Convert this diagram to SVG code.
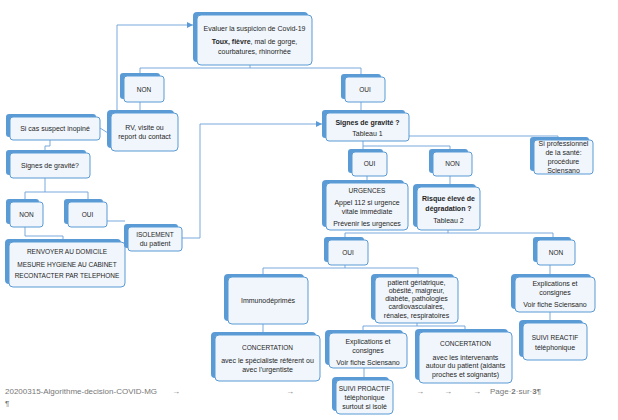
<svg xmlns="http://www.w3.org/2000/svg" width="618" height="420" viewBox="0 0 618 420">
<defs>
<style>
.bk{fill:#5b9bd5}
.fr{fill:#f1f6fc;stroke:#5b9bd5;stroke-width:1}
.t{font-family:"Liberation Sans",Arial,sans-serif;font-size:7px;fill:#1f1f1f;text-anchor:middle}
.u{font-size:6.5px}
.b{font-weight:bold}
.c{fill:none;stroke:#6b9fd8;stroke-width:0.9}
.f{font-family:"Liberation Sans",Arial,sans-serif;font-size:8px;fill:#777777}
</style>
<marker id="arr" viewBox="0 0 6 6" refX="6" refY="3" markerWidth="6" markerHeight="6" orient="auto" markerUnits="userSpaceOnUse">
<path d="M0,0 L6,3 L0,6 z" fill="#5b9bd5"/>
</marker>
</defs>
<rect width="618" height="420" fill="#ffffff"/>
<g id="connectors">
<polyline class="c" points="250,65 250,68"/>
<polyline class="c" points="140,76 140,68 361,68 361,77"/>
<polyline class="c" points="140,102 140,113"/>
<polyline class="c" points="117,111 117,25 193,25" marker-end="url(#arr)"/>
<polyline class="c" points="100,128 108,133"/>
<polyline class="c" points="50,140 50,146 45,146 45,153"/>
<polyline class="c" points="45,178 45,192"/>
<polyline class="c" points="25,202 25,192 88,192 88,202"/>
<polyline class="c" points="25,227 25,236 63,236 63,242"/>
<polyline class="c" points="107,221 125,221"/>
<polyline class="c" points="182,238 200,238 200,124 322,124" marker-end="url(#arr)"/>
<polyline class="c" points="361,102 361,113"/>
<polyline class="c" points="409,136 558,136 558,140"/>
<polyline class="c" points="363,141 363,146"/>
<polyline class="c" points="363,152 363,146 450,146 450,152"/>
<polyline class="c" points="367,176 367,183"/>
<polyline class="c" points="450,176 450,187"/>
<polyline class="c" points="448,230 448,233"/>
<polyline class="c" points="345,240 345,233 553,233 553,240"/>
<polyline class="c" points="345,265 345,268"/>
<polyline class="c" points="263,277 263,268 418,268 418,277"/>
<polyline class="c" points="550,265 550,277"/>
<polyline class="c" points="550,312 550,323"/>
<polyline class="c" points="263,324 263,335"/>
<polyline class="c" points="417,323 417,326"/>
<polyline class="c" points="363,333 363,326 465,326 465,332"/>
<polyline class="c" points="364,368 364,380"/>
</g>
<g id="n-evaluer"><rect class="bk" x="193" y="12" width="115" height="50" rx="4"/><rect class="fr" x="197" y="15" width="115" height="50" rx="4"/>
<text class="t" x="254.5" y="31">Evaluer la suspicion de Covid-19</text>
<text class="t" x="254.5" y="44"><tspan class="b">Toux, fièvre</tspan>, mal de gorge,</text>
<text class="t" x="254.5" y="54">courbatures, rhinorrhée</text></g>
<g id="n-non1"><rect class="bk" x="120" y="73" width="40" height="26" rx="3"/><rect class="fr" x="124" y="76" width="40" height="26" rx="3"/>
<text class="t u" x="144" y="91.5">NON</text></g>
<g id="n-rv"><rect class="bk" x="107" y="110" width="67" height="38" rx="4"/><rect class="fr" x="111" y="113" width="67" height="38" rx="4"/>
<text class="t" x="144.5" y="129.5">RV, visite ou</text>
<text class="t" x="144.5" y="138.5">report du contact</text></g>
<g id="n-oui1"><rect class="bk" x="341" y="74" width="40" height="25" rx="3"/><rect class="fr" x="345" y="77" width="40" height="25" rx="3"/>
<text class="t u" x="365" y="91.5">OUI</text></g>
<g id="n-sicas"><rect class="bk" x="6" y="114" width="90" height="23" rx="3"/><rect class="fr" x="10" y="117" width="90" height="23" rx="3"/>
<text class="t" x="55" y="131">Si cas suspect inopiné</text></g>
<g id="n-signes-left"><rect class="bk" x="6" y="150" width="80" height="25" rx="3"/><rect class="fr" x="10" y="153" width="80" height="25" rx="3"/>
<text class="t" x="50" y="168">Signes de gravité?</text></g>
<g id="n-non-left"><rect class="bk" x="6" y="199" width="33" height="25" rx="3"/><rect class="fr" x="10" y="202" width="33" height="25" rx="3"/>
<text class="t u" x="26.5" y="216.5">NON</text></g>
<g id="n-oui-left"><rect class="bk" x="64" y="199" width="39" height="25" rx="3"/><rect class="fr" x="68" y="202" width="39" height="25" rx="3"/>
<text class="t u" x="87.5" y="216.5">OUI</text></g>
<g id="n-renvoyer"><rect class="bk" x="5" y="239" width="116" height="45" rx="4"/><rect class="fr" x="9" y="242" width="116" height="45" rx="4"/>
<text class="t u" x="67" y="254">RENVOYER AU DOMICILE</text>
<text class="t u" x="67" y="267">MESURE HYGIENE AU CABINET</text>
<text class="t u" x="67" y="278">RECONTACTER PAR TELEPHONE</text></g>
<g id="n-isolement"><rect class="bk" x="124" y="224" width="54" height="24" rx="3"/><rect class="fr" x="128" y="227" width="54" height="24" rx="3"/>
<text class="t u" x="155" y="236.5">ISOLEMENT</text>
<text class="t" x="155" y="245.5">du patient</text></g>
<g id="n-signes1"><rect class="bk" x="322" y="110" width="83" height="28" rx="3"/><rect class="fr" x="326" y="113" width="83" height="28" rx="3"/>
<text class="t b" x="367.5" y="124.5">Signes de gravité ?</text>
<text class="t" x="367.5" y="135.5">Tableau 1</text></g>
<g id="n-sipro"><rect class="bk" x="530" y="137" width="59" height="34" rx="3"/><rect class="fr" x="534" y="140" width="59" height="34" rx="3"/>
<text class="t" x="563.5" y="146">Si professionnel</text>
<text class="t" x="563.5" y="155">de la santé:</text>
<text class="t" x="563.5" y="164">procédure</text>
<text class="t" x="563.5" y="172.5">Sciensano</text></g>
<g id="n-oui2"><rect class="bk" x="348" y="149" width="35" height="24" rx="3"/><rect class="fr" x="352" y="152" width="35" height="24" rx="3"/>
<text class="t u" x="369.5" y="166">OUI</text></g>
<g id="n-non2"><rect class="bk" x="429" y="149" width="39" height="24" rx="3"/><rect class="fr" x="433" y="152" width="39" height="24" rx="3"/>
<text class="t u" x="452.5" y="166">NON</text></g>
<g id="n-urgences"><rect class="bk" x="322" y="180" width="82" height="47" rx="4"/><rect class="fr" x="326" y="183" width="82" height="47" rx="4"/>
<text class="t u" x="367" y="192.5">URGENCES</text>
<text class="t" x="367" y="204.5">Appel 112 si urgence</text>
<text class="t" x="367" y="213.5">vitale immédiate</text>
<text class="t" x="367" y="226">Prévenir les urgences</text></g>
<g id="n-risque"><rect class="bk" x="413" y="184" width="63" height="43" rx="4"/><rect class="fr" x="417" y="187" width="63" height="43" rx="4"/>
<text class="t b" x="448.5" y="200.5">Risque élevé de</text>
<text class="t b" x="448.5" y="210.5">dégradation ?</text>
<text class="t" x="448.5" y="222.5">Tableau 2</text></g>
<g id="n-oui3"><rect class="bk" x="324" y="237" width="40" height="25" rx="3"/><rect class="fr" x="328" y="240" width="40" height="25" rx="3"/>
<text class="t u" x="348" y="254.5">OUI</text></g>
<g id="n-non3"><rect class="bk" x="533" y="237" width="38" height="25" rx="3"/><rect class="fr" x="537" y="240" width="38" height="25" rx="3"/>
<text class="t u" x="556" y="254.5">NON</text></g>
<g id="n-immuno"><rect class="bk" x="224" y="274" width="80" height="47" rx="4"/><rect class="fr" x="228" y="277" width="80" height="47" rx="4"/>
<text class="t" x="268" y="302.5">Immunodéprimés</text></g>
<g id="n-patient"><rect class="bk" x="371" y="274" width="83" height="46" rx="4"/><rect class="fr" x="375" y="277" width="83" height="46" rx="4"/>
<text class="t" x="416.5" y="284.5">patient gériatrique,</text>
<text class="t" x="416.5" y="292.5">obésité, maigreur,</text>
<text class="t" x="416.5" y="300.5">diabète, pathologies</text>
<text class="t" x="416.5" y="309">cardiovasculaires,</text>
<text class="t" x="416.5" y="317.5">rénales, respiratoires</text></g>
<g id="n-explic-right"><rect class="bk" x="511" y="274" width="80" height="35" rx="4"/><rect class="fr" x="515" y="277" width="80" height="35" rx="4"/>
<text class="t" x="555" y="285.5">Explications et</text>
<text class="t" x="555" y="294.5">consignes</text>
<text class="t" x="555" y="307">Voir fiche Sciensano</text></g>
<g id="n-suivi-reactif"><rect class="bk" x="519" y="320" width="64" height="37" rx="4"/><rect class="fr" x="523" y="323" width="64" height="37" rx="4"/>
<text class="t u" x="555" y="339.5">SUIVI REACTIF</text>
<text class="t" x="555" y="349.5">téléphonique</text></g>
<g id="n-concert-left"><rect class="bk" x="211" y="332" width="105" height="46" rx="4"/><rect class="fr" x="215" y="335" width="105" height="46" rx="4"/>
<text class="t u" x="267.5" y="349.5">CONCERTATION</text>
<text class="t" x="267.5" y="362.5" font-size="6.7">avec le spécialiste référent ou</text>
<text class="t" x="267.5" y="371.5">avec l’urgentiste</text></g>
<g id="n-explic-mid"><rect class="bk" x="325" y="330" width="78" height="35" rx="4"/><rect class="fr" x="329" y="333" width="78" height="35" rx="4"/>
<text class="t" x="368" y="343.5">Explications et</text>
<text class="t" x="368" y="352.5">consignes</text>
<text class="t" x="368" y="365">Voir fiche Sciensano</text></g>
<g id="n-suivi-proactif"><rect class="bk" x="332" y="377" width="57" height="34" rx="4"/><rect class="fr" x="336" y="380" width="57" height="34" rx="4"/>
<text class="t u" x="364.5" y="390.5">SUIVI PROACTIF</text>
<text class="t" x="364.5" y="399.5">téléphonique</text>
<text class="t" x="364.5" y="409">surtout si isolé</text></g>
<g id="n-concert-right"><rect class="bk" x="415" y="329" width="93" height="51" rx="4"/><rect class="fr" x="419" y="332" width="93" height="51" rx="4"/>
<text class="t u" x="465.5" y="345.5">CONCERTATION</text>
<text class="t" x="465.5" y="359.5">avec les intervenants</text>
<text class="t" x="465.5" y="367.5">autour du patient (aidants</text>
<text class="t" x="465.5" y="376.5">proches et soignants)</text></g>
<g id="footer">
<text class="f" x="5" y="394">20200315-Algorithme-decision-COVID-MG</text>
<text class="f" x="5" y="406">¶</text>
<text class="f" x="172" y="394">→</text>
<text class="f" x="286" y="394">→</text>
<text class="f" x="416" y="394">→</text>
<text class="f" x="444" y="394">→</text>
<text class="f" x="473" y="394">→</text>
<text class="f" x="490" y="394">Page·<tspan font-weight="bold">2</tspan>·sur·<tspan font-weight="bold">3</tspan>¶</text>
</g>
</svg>
